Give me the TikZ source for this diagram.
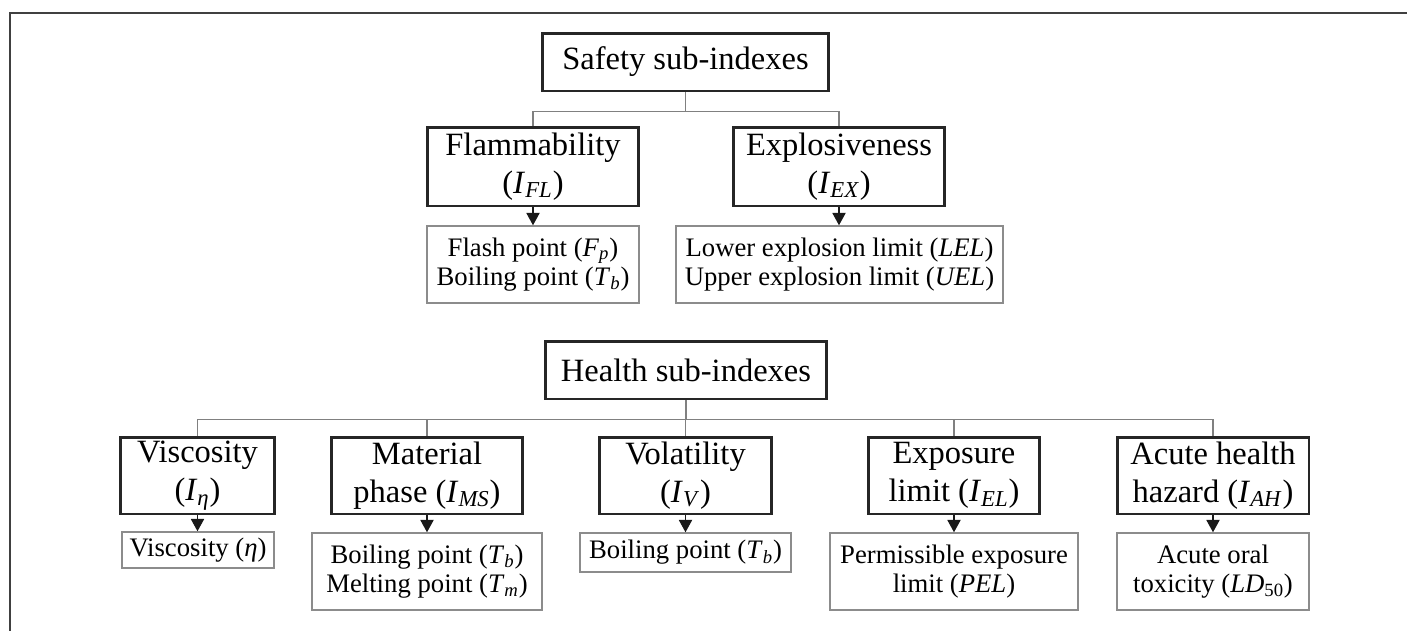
\documentclass[tikz,border=0pt]{standalone}
\usepackage{fontspec}
\setmainfont{Liberation Serif}
\usetikzlibrary{arrows.meta}
\begin{document}
\begin{tikzpicture}[x=0.02cm, y=-0.02cm,
		headbox/.style={draw=black!85, line width=1.7pt, inner sep=0pt, align=center,
			font=\fontsize{18.5}{21.5}\selectfont},
		propbox/.style={draw=black!45, line width=0.85pt, inner sep=0pt, align=center,
			font=\fontsize{15.2}{16.8}\selectfont},
		conn/.style={draw=black!50, line width=0.85pt},
		arr/.style={draw=black!90, line width=0.7pt, -{Triangle[width=7.5pt,length=7pt]}}]
		\useasboundingbox (0,0) rectangle (1407,630);
		% Rahmen
		\draw[black!75, line width=1.1pt] (10,640) -- (10,13) -- (1420,13);
		% Sicherheit
		\node[headbox, minimum width=5.74cm, minimum height=1.16cm] (safety) at (685.5,62) {Safety sub-indexes};
		\node[headbox, minimum width=4.24cm, minimum height=1.58cm] (flam) at (533,166.5)
			{Flammability\\(\textit{I}\textsubscript{\textit{FL}})};
		\node[headbox, minimum width=4.24cm, minimum height=1.58cm] (expl) at (839,166.5)
			{Explosiveness\\(\textit{I}\textsubscript{\textit{EX}})};
		\node[propbox, minimum width=4.24cm, minimum height=1.54cm] (flamsub) at (533,264.5)
			{Flash point (\textit{F}\textsubscript{\textit{p}})\\Boiling point (\textit{T}\textsubscript{\textit{b}})};
		\node[propbox, minimum width=6.54cm, minimum height=1.54cm] (explsub) at (839.5,264.5)
			{Lower explosion limit (\textit{LEL})\\Upper explosion limit (\textit{UEL})};
		\draw[conn] (safety.south) -- ++(0,19) -| (flam.north);
		\draw[conn] (safety.south) -- ++(0,19) -| (expl.north);
		\draw[arr] (flam.south) -- (flam.south |- flamsub.north);
		\draw[arr] (expl.south) -- (expl.south |- explsub.north);
		% Gesundheit
		\node[headbox, minimum width=5.64cm, minimum height=1.16cm] (health) at (686,370) {Health sub-indexes};
		\node[headbox, minimum width=3.10cm, minimum height=1.54cm] (visc) at (197.5,475.5)
			{Viscosity\\(\textit{I}\textsubscript{\textit{η}})};
		\node[headbox, minimum width=3.84cm, minimum height=1.54cm] (phase) at (427,475.5)
			{Material\\phase (\textit{I}\textsubscript{\textit{MS}})};
		\node[headbox, minimum width=3.46cm, minimum height=1.54cm] (vola) at (685.5,475.5)
			{Volatility\\(\textit{I}\textsubscript{\textit{V}})};
		\node[headbox, minimum width=3.44cm, minimum height=1.54cm] (expo) at (954,475.5)
			{Exposure\\limit (\textit{I}\textsubscript{\textit{EL}})};
		\node[headbox, minimum width=3.84cm, minimum height=1.54cm] (acute) at (1213,475.5)
			{Acute health\\hazard (\textit{I}\textsubscript{\textit{AH}})};
		\node[propbox, minimum width=3.04cm, minimum height=0.72cm] (viscsub) at (198,550)
			{Viscosity (\textit{η})};
		\node[propbox, minimum width=4.60cm, minimum height=1.54cm] (phasesub) at (427,571.5)
			{Boiling point (\textit{T}\textsubscript{\textit{b}})\\Melting point (\textit{T}\textsubscript{\textit{m}})};
		\node[propbox, minimum width=4.22cm, minimum height=0.78cm] (volasub) at (685.5,552.5)
			{Boiling point (\textit{T}\textsubscript{\textit{b}})};
		\node[propbox, minimum width=4.96cm, minimum height=1.54cm] (exposub) at (954,571.5)
			{Permissible exposure\\limit (\textit{PEL})};
		\node[propbox, minimum width=3.84cm, minimum height=1.54cm] (acutesub) at (1213,571.5)
			{Acute oral\\toxicity (\textit{LD}\textsubscript{50})};
		\draw[conn] (health.south) -- ++(0,19) -| (visc.north);
		\draw[conn] (health.south) -- ++(0,19) -| (phase.north);
		\draw[conn] (health.south) -- ++(0,19) -| (vola.north);
		\draw[conn] (health.south) -- ++(0,19) -| (expo.north);
		\draw[conn] (health.south) -- ++(0,19) -| (acute.north);
		\draw[arr] (visc.south) -- (visc.south |- viscsub.north);
		\draw[arr] (phase.south) -- (phase.south |- phasesub.north);
		\draw[arr] (vola.south) -- (vola.south |- volasub.north);
		\draw[arr] (expo.south) -- (expo.south |- exposub.north);
		\draw[arr] (acute.south) -- (acute.south |- acutesub.north);
	\end{tikzpicture}
\end{document}
